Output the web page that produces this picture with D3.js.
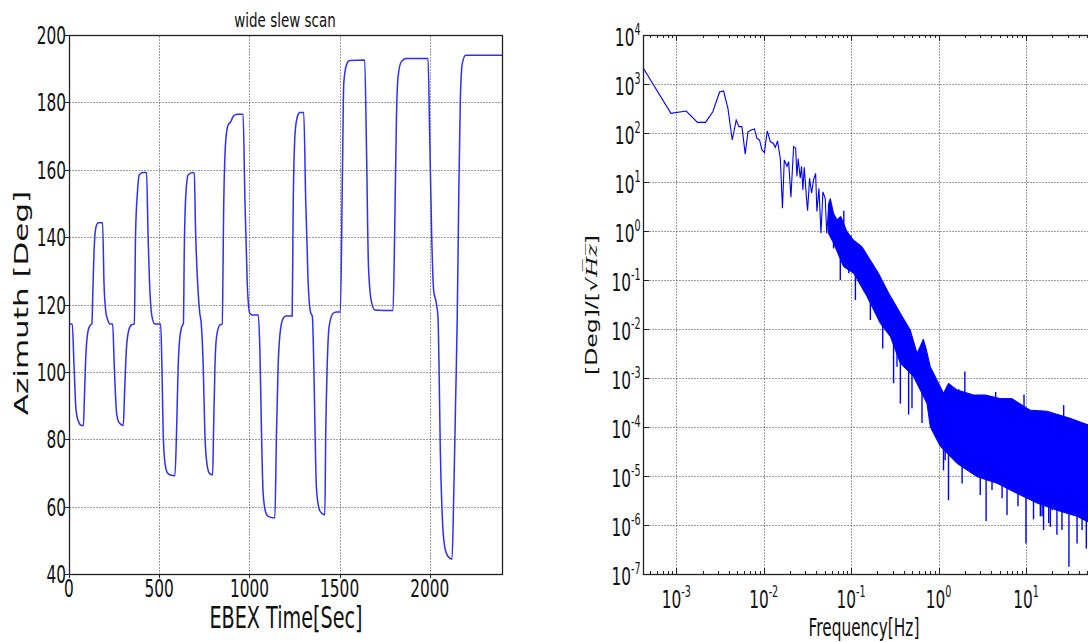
<!DOCTYPE html>
<html>
<head>
<meta charset="utf-8">
<script src="https://cdn.jsdelivr.net/npm/d3@7"></script>
<style>
  body { margin: 0; background: #fff; overflow: hidden; }
  text { font-family: "DejaVu Sans", sans-serif; fill: #111; }
</style>
</head>
<body>
<div id="chart"></div>
<script>
// ---- left panel: azimuth during the wide slew scan ----
const scanTime = [0, 18, 28, 39, 52, 70, 80, 85, 94, 107, 120, 127,
  131, 140, 150, 162, 186, 194, 205, 212, 227, 242,
  251, 264, 279, 301, 308, 319, 332, 347, 362,
  369, 379, 390, 408, 430, 438, 449, 460, 476, 508,
  515, 522, 532, 546, 563, 587, 596, 605, 615, 629, 634,
  639, 648, 661, 685, 694, 702, 716, 725, 733,
  744, 753, 762, 777, 796, 801, 809, 818, 836, 849,
  858, 869, 882, 897, 910, 932, 965, 975, 988, 1002, 1015, 1049,
  1058, 1067, 1076, 1089, 1104, 1141, 1150, 1159, 1172, 1187, 1202, 1237,
  1242, 1253, 1266, 1279, 1301, 1312, 1325, 1338, 1349,
  1357, 1364, 1371, 1385, 1399, 1418, 1423, 1431, 1442, 1464, 1482, 1504,
  1516, 1523, 1538, 1556, 1639, 1649, 1660, 1676, 1695, 1796,
  1805, 1815, 1824, 1842, 1870, 1990, 1999, 2010, 2021, 2036, 2045,
  2051, 2058, 2069, 2082, 2101, 2123, 2132, 2143, 2152, 2160, 2169, 2180, 2199, 2400];
const scanAz = [114.2, 114.2, 101.6, 88.7, 85.3, 84.1, 84.1, 91.7, 105.5, 112.5, 114, 114.2,
  121.4, 137.2, 143.1, 144.3, 144.3, 126.3, 117.4, 115.9, 114.2, 114.2,
  101.6, 87.7, 84.8, 84.1, 93.7, 107.5, 112.5, 114, 114.2,
  141.1, 153, 158.5, 159.2, 159.2, 141.1, 123.4, 116.4, 114.2, 114.2,
  101.6, 81.8, 72.9, 70, 69.4, 69.2, 81.8, 101.6, 110.5, 113.9, 114.2,
  136.2, 153, 158.5, 159.2, 159, 141.1, 123.4, 117.4, 114.4,
  101.6, 81.8, 73.9, 70, 69.4, 81.8, 101.6, 110.5, 113.9, 114.2,
  151, 168.8, 173.3, 174.3, 175.8, 176.5, 176.5, 151, 126.3, 117.4, 116.9, 116.9,
  106.5, 81.8, 64, 58.6, 57.1, 56.6, 81.8, 101.6, 112.5, 115.9, 116.6, 116.6,
  146.1, 170.8, 175.8, 177, 177, 151, 127.3, 117.9, 116.4,
  101.6, 81.8, 66, 59.6, 58.1, 57.6, 81.8, 101.6, 113.5, 117.4, 117.8, 117.8,
  160.9, 185.7, 191.1, 192.4, 192.6, 165.9, 131.3, 120.9, 118.4, 118.2,
  141.1, 175.8, 187.6, 192.1, 193, 193, 170.8, 141.1, 124.3, 120.4, 116.4,
  101.6, 76.9, 57.1, 48.2, 45.2, 44.4, 62, 91.7, 116.4, 151, 180.7, 191.6, 194, 194];
const azTicks = [40, 60, 80, 100, 120, 140, 160, 180, 200];
const timeTicks = [0, 500, 1000, 1500, 2000];

// ---- right panel: amplitude spectrum ----
// sparse low-frequency part, read point by point
const lineFreq = [0.000417, 0.00087, 0.0013, 0.00175, 0.00216, 0.00262, 0.00313, 0.00348, 0.0039,
  0.00437, 0.00485, 0.00521, 0.00564, 0.00615, 0.00661, 0.00721, 0.00785, 0.00838, 0.00897,
  0.00955, 0.0102, 0.011, 0.0119, 0.0128, 0.0136, 0.0144, 0.0155, 0.0164, 0.0172, 0.0185,
  0.0193, 0.0205, 0.022, 0.0232, 0.024, 0.0248, 0.0262, 0.0271, 0.0281, 0.0291, 0.0307,
  0.0318, 0.0335, 0.0353, 0.0372, 0.0393, 0.0406, 0.0429, 0.0452, 0.0476, 0.0506, 0.0526,
  0.0555, 0.0585];
const lineAmp = [2140, 252, 281, 165, 165, 272, 687, 719, 319,
  72, 184, 135, 135, 37, 106, 115, 121, 78, 72,
  45, 40, 111, 67, 62, 51, 69, 30, 2.9, 28, 21,
  26, 4.9, 53, 49, 12.9, 30, 11.9, 21, 6.9, 20, 5.4,
  2.6, 11.9, 5.9, 11, 15, 2.5, 7.4, 0.9, 6.3, 4.6, 0.9,
  3.1, 4.3];
// dense part: top and bottom of the noise band
const upperFreq = [0.055, 0.0578, 0.063, 0.0689, 0.076, 0.0891, 0.1, 0.107, 0.133, 0.206, 0.269,
  0.366, 0.475, 0.568, 0.62, 0.67, 0.72, 0.805, 0.959, 1.14, 1.3, 1.63, 2.52, 3.43, 5.09,
  6.92, 11.2, 17.4, 32.2, 60];
const upperAmp = [3.5, 4.6, 2.3, 1.7, 2.0, 1.0, 0.75, 0.65, 0.48, 0.137, 0.054,
  0.021, 0.0095, 0.0032, 0.0045, 0.0062, 0.004, 0.0017, 0.00091, 0.00049, 0.00078, 0.00057,
  0.00045, 0.00045, 0.00038, 0.00038, 0.00022, 0.00021, 0.00015, 0.0001];
const lowerFreq = [0.055, 0.0631, 0.082, 0.107, 0.152, 0.216, 0.281, 0.366, 0.519, 0.738, 0.805,
  1.05, 1.63, 2.75, 4.67, 7.91, 13.4, 22.6, 38.4, 60];
const lowerAmp = [0.9, 0.56, 0.187, 0.137, 0.046, 0.013, 0.007, 0.002, 0.00106, 0.0003, 0.0001,
  4e-5, 1.8e-5, 9.7e-6, 7.1e-6, 4.4e-6, 2.8e-6, 2e-6, 1.5e-6, 1.0e-6];
// single spikes sticking out of the band: frequency, start (inside band), tip
const spikeFreq = [0.063, 0.0752, 0.094, 0.112, 0.166, 0.23, 0.306, 0.335, 0.366, 0.455, 0.497, 0.647,
  1.14, 1.19, 1.3, 1.86, 3.0, 3.5, 4.09, 5.33, 6.07, 8.1, 10, 12.2, 14.6, 15.3, 15.9, 18.2, 19,
  19.9, 22.6, 25.8, 31, 38.4, 43.8, 49,
  0.1, 0.0825, 2.0, 1.7, 4.5, 9.5, 27];
const spikeFrom = [1.0, 0.4, 0.3, 0.2, 0.06, 0.02, 0.008, 0.006, 0.004, 0.002, 0.002, 0.001,
  6e-5, 5e-5, 5e-5, 3e-5, 2e-5, 2e-5, 1.5e-5, 1.2e-5, 1.2e-5, 1e-5, 8e-6, 7e-6, 6e-6, 5e-6, 6e-6, 4e-6, 5e-6,
  4e-6, 5e-6, 4e-6, 4e-6, 3e-6, 3e-6, 3e-6,
  0.4, 0.9, 4e-4, 4e-4, 3e-4, 2.5e-4, 1.5e-4];
const spikeTo = [0.44, 0.1, 0.137, 0.039, 0.0153, 0.004, 0.00078, 0.0017, 0.0003, 0.00018, 0.00024, 0.00012,
  1.3e-5, 2.1e-5, 3.2e-6, 7e-6, 4.1e-6, 1.2e-6, 5.2e-6, 3.5e-6, 1.6e-6, 2.4e-6, 4.2e-7, 1.3e-6, 1.5e-6, 1.5e-6, 7.9e-7, 1.1e-6, 9.2e-7,
  2e-6, 6.3e-7, 7.9e-7, 1.4e-7, 4.2e-7, 7.9e-7, 3.3e-7,
  0.8, 2.6, 1.35e-3, 5.9e-4, 5.2e-4, 4.6e-4, 2.8e-4];
const ampExps = [-7, -6, -5, -4, -3, -2, -1, 0, 1, 2, 3, 4];
const freqExps = [-3, -2, -1, 0, 1];

const W = 1088, H = 642, SX = 0.64;
const svg = d3.select("#chart").append("svg").attr("width", W).attr("height", H);

function addText(parent, x, y, str, size, opts) {
    opts = opts || {};
    var tr = "translate(" + x + "," + y + ")";
    tr += opts.rotate ? " rotate(-90) scale(1," + SX + ")" : " scale(" + (opts.sx || SX) + ",1)";
    var t = parent.append("text")
        .attr("transform", tr)
        .attr("text-anchor", opts.anchor || "middle")
        .attr("font-size", size);
    if (str !== null) t.text(str);
    return t;
}

function powLabel(parent, x, y, e, anchor) {
    var t = addText(parent, x, y, null, 24, {anchor: anchor});
    t.append("tspan").text("10");
    t.append("tspan").attr("dy", -11).attr("font-size", 15).text(e < 0 ? "-" + (-e) : e);
}

// snap to the pixel grid so the dotted lines stay crisp
function px(v) { return Math.round(v) + 0.5; }

function grid(g, x1, x2, y1, y2) {
    g.append("line")
        .attr("x1", px(x1)).attr("x2", px(x2)).attr("y1", px(y1)).attr("y2", px(y2))
        .attr("stroke", "#3a3a3a").attr("stroke-width", 1)
        .attr("stroke-dasharray", "1,2");
}

// ================= left panel =================
const left = svg.append("g");
const xl = d3.scaleLinear().domain([0, 2400]).range([69, 502]);
const yl = d3.scaleLinear().domain([40, 200]).range([574, 35]);

timeTicks.slice(1).forEach(function (t) { grid(left, xl(t), xl(t), yl(40), yl(200)); });
azTicks.slice(1, -1).forEach(function (a) { grid(left, xl(0), xl(2400), yl(a), yl(a)); });

const scan = scanTime.map(function (t, i) { return [t, scanAz[i]]; });
left.append("path")
    .datum(scan)
    .attr("fill", "none")
    .attr("stroke", "#2e2eff")
    .attr("stroke-width", 1.5)
    .attr("d", d3.line()
        .x(function (d) { return xl(d[0]); })
        .y(function (d) { return yl(d[1]); })
        .curve(d3.curveMonotoneX));

left.append("rect")
    .attr("x", px(xl(0))).attr("y", px(yl(200)))
    .attr("width", Math.round(xl(2400) - xl(0))).attr("height", Math.round(yl(40) - yl(200)))
    .attr("fill", "none").attr("stroke", "#222").attr("stroke-width", 1.3);

azTicks.forEach(function (a) {
    left.append("line").attr("x1", xl(0) - 4).attr("x2", xl(0)).attr("y1", px(yl(a))).attr("y2", px(yl(a)))
        .attr("stroke", "#222");
    addText(left, xl(0) - 3, yl(a) + 9, a, 24, {anchor: "end"});
});
timeTicks.forEach(function (t) {
    left.append("line").attr("x1", px(xl(t))).attr("x2", px(xl(t))).attr("y1", yl(40)).attr("y2", yl(40) + 4)
        .attr("stroke", "#222");
    addText(left, xl(t), yl(40) + 23, t, 24);
});

addText(left, 285, 27, "wide slew scan", 19, {sx: 0.71});
addText(left, 286, 628, "EBEX Time[Sec]", 30);
addText(left, 28, 303, "Azimuth [Deg]", 31, {rotate: true});

// ================= right panel =================
const right = svg.append("g");
const xr = d3.scaleLog().domain([1 / 2400, 60]).range([643, 1094]);
const yr = d3.scaleLog().domain([1e-7, 1e4]).range([574, 35]);

freqExps.forEach(function (e) { grid(right, xr(Math.pow(10, e)), xr(Math.pow(10, e)), yr(1e-7), yr(1e4)); });
ampExps.slice(1, -1).forEach(function (e) { grid(right, xr(1 / 2400), xr(60), yr(Math.pow(10, e)), yr(Math.pow(10, e))); });

const lineR = d3.line()
    .x(function (d) { return xr(d[0]); })
    .y(function (d) { return yr(d[1]); });

const sparse = lineFreq.map(function (f, i) { return [f, lineAmp[i]]; });
right.append("path")
    .datum(sparse)
    .attr("fill", "none").attr("stroke", "#0000ff").attr("stroke-width", 1.1)
    .attr("d", lineR);

const band = upperFreq.map(function (f, i) { return [f, upperAmp[i]]; })
    .concat(lowerFreq.map(function (f, i) { return [f, lowerAmp[i]]; }).reverse());
right.append("path")
    .datum(band)
    .attr("fill", "#0000ff").attr("stroke", "#0000ff").attr("stroke-width", 1)
    .attr("stroke-linejoin", "bevel")
    .attr("d", function (d) { return lineR(d) + "Z"; });

right.selectAll(".spike")
    .data(spikeFreq)
    .enter().append("line")
    .attr("class", "spike")
    .attr("x1", function (f) { return xr(f); })
    .attr("x2", function (f) { return xr(f); })
    .attr("y1", function (f, i) { return yr(spikeFrom[i]); })
    .attr("y2", function (f, i) { return yr(spikeTo[i]); })
    .attr("stroke", "#0000ff").attr("stroke-width", 1.4);

// frame (right edge falls outside the picture)
right.append("rect")
    .attr("x", px(xr(1 / 2400))).attr("y", px(yr(1e4)))
    .attr("width", Math.round(xr(60) - xr(1 / 2400))).attr("height", Math.round(yr(1e-7) - yr(1e4)))
    .attr("fill", "none").attr("stroke", "#222").attr("stroke-width", 1.3);

xr.ticks().forEach(function (f) {
    var major = Math.abs(Math.log10(f) - Math.round(Math.log10(f))) < 1e-6;
    var len = major ? 6 : 3;
    right.append("line").attr("x1", px(xr(f))).attr("x2", px(xr(f)))
        .attr("y1", yr(1e-7)).attr("y2", yr(1e-7) - len).attr("stroke", "#222");
    right.append("line").attr("x1", px(xr(f))).attr("x2", px(xr(f)))
        .attr("y1", yr(1e4)).attr("y2", yr(1e4) + len).attr("stroke", "#222");
});
ampExps.forEach(function (e) {
    var y = yr(Math.pow(10, e));
    right.append("line").attr("x1", xr(1 / 2400)).attr("x2", xr(1 / 2400) + 6)
        .attr("y1", px(y)).attr("y2", px(y)).attr("stroke", "#222");
    powLabel(right, 640.5, y + 11, e, "end");
});
freqExps.forEach(function (e) {
    powLabel(right, xr(Math.pow(10, e)), 608, e, "middle");
});

addText(right, 864, 636, "Frequency[Hz]", 24);

const ylab = addText(right, 597, 305, null, 23.5, {rotate: true});
ylab.append("tspan").text("[Deg]/[");
ylab.append("tspan").attr("font-family", "DejaVu Serif").text("\u221A");
ylab.append("tspan").attr("font-family", "DejaVu Serif").attr("font-style", "italic")
    .text("H\u0305z\u0305");
ylab.append("tspan").text("]");
</script>
</body>
</html>
